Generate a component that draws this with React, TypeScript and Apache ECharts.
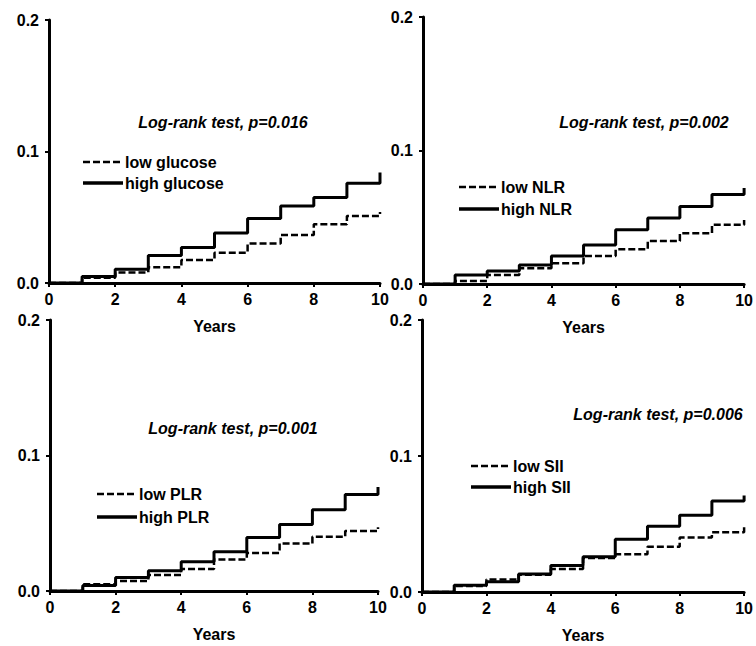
import React, { useEffect, useRef } from "react";
import * as echarts from "echarts";

const YEARS = [0, 1, 2, 3, 4, 5, 6, 7, 8, 9, 10];
const X_TICKS = [0, 2, 4, 6, 8, 10];
const Y_TICKS = [0.0, 0.1, 0.2];

const PANEL_LABELS = ["glucose", "NLR", "PLR", "SII"];
const P_VALUES = ["0.016", "0.002", "0.001", "0.006"];

const lowGlucose = [0, 0.004, 0.008, 0.012, 0.0175, 0.023, 0.030, 0.0365, 0.0446, 0.051, 0.054];
const highGlucose = [0, 0.005, 0.0104, 0.021, 0.027, 0.038, 0.049, 0.0586, 0.065, 0.0758, 0.084];

const lowNLR = [0, 0.0023, 0.0068, 0.0118, 0.0156, 0.021, 0.026, 0.0323, 0.038, 0.0444, 0.048];
const highNLR = [0, 0.0068, 0.0098, 0.0143, 0.021, 0.0293, 0.0406, 0.0494, 0.058, 0.067, 0.072];

const lowPLR = [0, 0.005, 0.0074, 0.0118, 0.0162, 0.0233, 0.028, 0.035, 0.040, 0.0443, 0.047];
const highPLR = [0, 0.004, 0.010, 0.015, 0.0215, 0.029, 0.0395, 0.049, 0.060, 0.0713, 0.0767];

const lowSII = [0, 0.0045, 0.0092, 0.0126, 0.017, 0.025, 0.0278, 0.0332, 0.040, 0.044, 0.0477];
const highSII = [0, 0.0049, 0.0076, 0.0133, 0.0194, 0.026, 0.0387, 0.0484, 0.0564, 0.067, 0.071];

const LOW_SERIES = [lowGlucose, lowNLR, lowPLR, lowSII];
const HIGH_SERIES = [highGlucose, highNLR, highPLR, highSII];

const FONT = "Liberation Sans";
const DASH = [7, 3];

// layout (pixels)
const GRIDS = [
  { left: 49, top: 20, width: 331, height: 263 },
  { left: 423, top: 17, width: 323, height: 267 },
  { left: 50, top: 320, width: 328, height: 271 },
  { left: 422, top: 320, width: 327, height: 272 },
];
const TEST_POS = [
  { x: 223, y: 122 },
  { x: 644, y: 122 },
  { x: 233, y: 428 },
  { x: 658, y: 414 },
];
// legend: line start x, line end x, first row y, row spacing
const LEGEND_POS = [
  { x0: 83, x1: 123, y: 162, dy: 21 },
  { x0: 459, x1: 499, y: 187, dy: 22 },
  { x0: 97, x1: 137, y: 494, dy: 23 },
  { x0: 471, x1: 511, y: 466, dy: 21 },
];

export default function App() {
  const ref = useRef<HTMLDivElement>(null);
  useEffect(() => {
    if (!ref.current) return;
    const chart = echarts.init(ref.current, null, { renderer: "svg" });
    const toPairs = (vals: number[]) => YEARS.map((x, i) => [x, vals[i]]);

    const xAxis = GRIDS.map((_, i) => ({
      type: "value",
      gridIndex: i,
      min: X_TICKS[0],
      max: X_TICKS[X_TICKS.length - 1],
      interval: 2,
      name: "Years",
      nameLocation: "middle",
      nameGap: 35,
      nameTextStyle: { fontFamily: FONT, fontWeight: "bold", fontSize: 16, color: "#000" },
      axisLine: { show: true, onZero: false, lineStyle: { color: "#000", width: 3 } },
      axisTick: { show: true, length: 4, lineStyle: { color: "#000", width: 2 } },
      axisLabel: { fontFamily: FONT, fontWeight: "bold", fontSize: 16, color: "#000", margin: 8 },
      splitLine: { show: false },
    }));
    const yAxis = GRIDS.map((_, i) => ({
      type: "value",
      gridIndex: i,
      min: Y_TICKS[0],
      max: Y_TICKS[Y_TICKS.length - 1],
      interval: 0.1,
      axisLine: { show: true, lineStyle: { color: "#000", width: 3 } },
      axisTick: { show: true, length: 4, lineStyle: { color: "#000", width: 2 } },
      axisLabel: {
        fontFamily: FONT,
        fontWeight: "bold",
        fontSize: 16,
        color: "#000",
        margin: 10,
        formatter: (v: number) => v.toFixed(1),
      },
      splitLine: { show: false },
    }));

    const series: any[] = [];
    PANEL_LABELS.forEach((lab, i) => {
      series.push({
        type: "line",
        name: "low " + lab,
        xAxisIndex: i,
        yAxisIndex: i,
        step: "end",
        symbol: "none",
        data: toPairs(LOW_SERIES[i]),
        lineStyle: { color: "#000", width: 2.5, type: DASH },
        z: 3,
      });
      series.push({
        type: "line",
        name: "high " + lab,
        xAxisIndex: i,
        yAxisIndex: i,
        step: "end",
        symbol: "none",
        data: toPairs(HIGH_SERIES[i]),
        lineStyle: { color: "#000", width: 3, type: "solid" },
        z: 2,
      });
    });

    const graphic: any[] = [];
    P_VALUES.forEach((p, i) => {
      graphic.push({
        type: "text",
        x: TEST_POS[i].x,
        y: TEST_POS[i].y,
        style: {
          text: "Log-rank test, p=" + p,
          fill: "#000",
          font: `italic bold 16px "${FONT}"`,
          textAlign: "center",
          textVerticalAlign: "middle",
        },
      });
    });
    PANEL_LABELS.forEach((lab, i) => {
      const L = LEGEND_POS[i];
      [
        { name: "low " + lab, dash: DASH, width: 2.5 },
        { name: "high " + lab, dash: null, width: 3.5 },
      ].forEach((item, k) => {
        const y = L.y + k * L.dy;
        graphic.push({
          type: "line",
          shape: { x1: L.x0, y1: y, x2: L.x1, y2: y },
          style: { stroke: "#000", lineWidth: item.width, lineDash: item.dash },
        });
        graphic.push({
          type: "text",
          x: L.x1 + 2,
          y,
          style: {
            text: item.name,
            fill: "#000",
            font: `bold 16px "${FONT}"`,
            textAlign: "left",
            textVerticalAlign: "middle",
          },
        });
      });
    });

    chart.setOption({
      animation: false,
      backgroundColor: "#fff",
      grid: GRIDS.map((g) => ({ ...g, containLabel: false })),
      xAxis,
      yAxis,
      series,
      graphic,
    });
    return () => chart.dispose();
  }, []);
  return (
    <div
      ref={ref}
      style={{ position: "fixed", left: 0, top: 0, width: 756, height: 646, background: "#fff" }}
    />
  );
}
